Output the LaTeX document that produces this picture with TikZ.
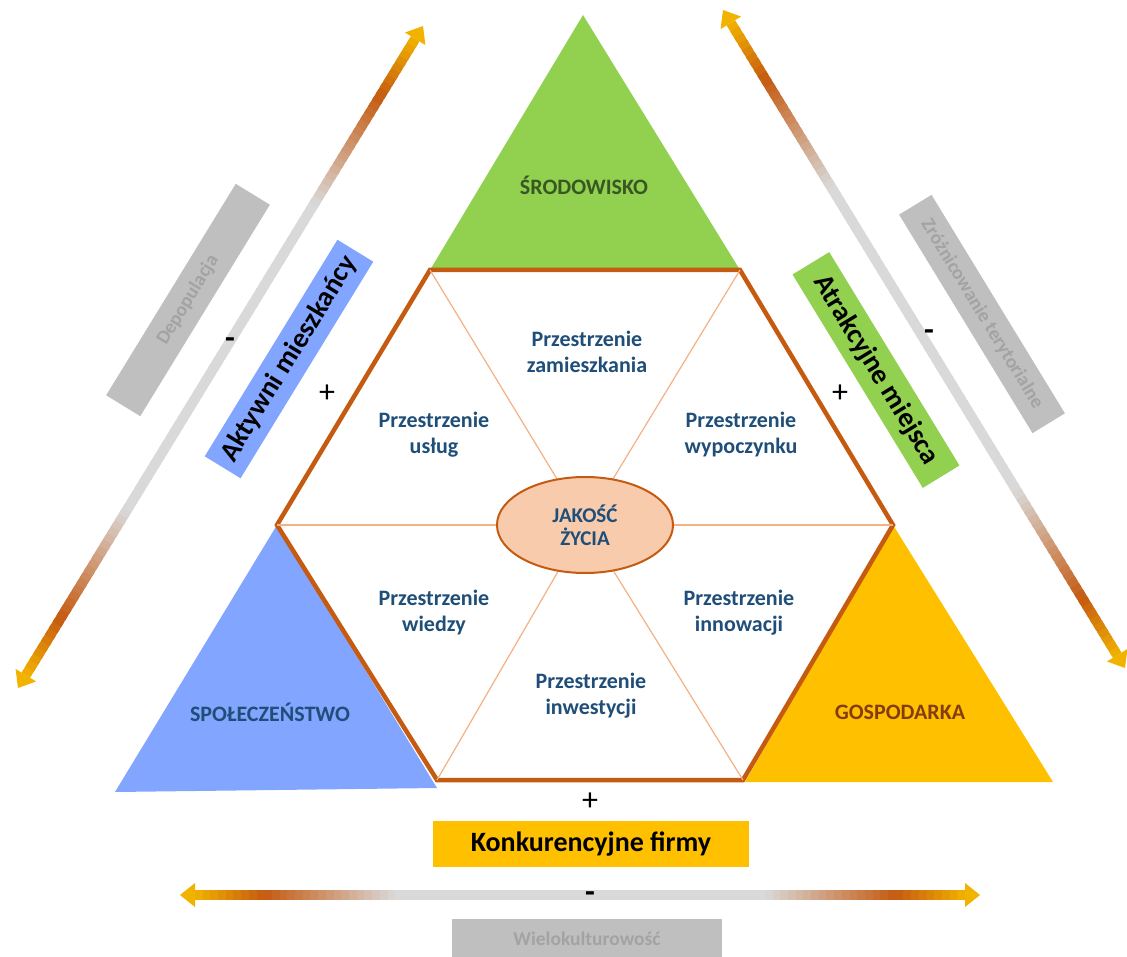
\documentclass[tikz,border=0pt]{standalone}
\usepackage{fontspec}
\setmainfont{Carlito}
\usetikzlibrary{calc,shapes.geometric}
\definecolor{hexbrown}{HTML}{C55A11}
\definecolor{thinline}{HTML}{F4B183}
\definecolor{ellfill}{HTML}{F8CBAD}
\definecolor{envgreen}{HTML}{92D050}
\definecolor{socblue}{HTML}{82A5FF}
\definecolor{ecoyellow}{HTML}{FFC000}
\definecolor{boxgray}{HTML}{BFBFBF}
\definecolor{txtgray}{HTML}{A3A3A3}
\definecolor{secblue}{HTML}{1F4E79}
\definecolor{envtxt}{HTML}{385723}
\definecolor{soctxt}{HTML}{1F4E79}
\definecolor{ecotxt}{HTML}{843C0C}
\definecolor{gld}{HTML}{F2B200}
\definecolor{dor}{HTML}{C55A11}
\definecolor{lgr}{HTML}{D9D9D9}
\newcommand\setgradcolor[1]{%
  \pgfmathsetmacro\gt{#1}%
  \ifdim\gt pt<0.09pt
    \pgfmathsetmacro\gp{\gt/0.09*100}\colorlet{segc}{dor!\gp!gld}%
  \else\ifdim\gt pt<0.26pt
    \pgfmathsetmacro\gp{(\gt-0.09)/0.17*100}\colorlet{segc}{lgr!\gp!dor}%
  \else\ifdim\gt pt<0.74pt
    \colorlet{segc}{lgr}%
  \else\ifdim\gt pt<0.91pt
    \pgfmathsetmacro\gp{(\gt-0.74)/0.17*100}\colorlet{segc}{dor!\gp!lgr}%
  \else
    \pgfmathsetmacro\gp{(\gt-0.91)/0.09*100}\colorlet{segc}{gld!\gp!dor}%
  \fi\fi\fi\fi}
\newcommand\gradarrowdraw[2]{%
  \coordinate (#1s) at ($(#1)!15pt!(#2)$);
  \coordinate (#2s) at ($(#2)!15pt!(#1)$);
  \foreach \gi in {0,...,99}{%
    \pgfmathsetmacro\ga{\gi/100}%
    \pgfmathsetmacro\gb{min((\gi+1.6)/100,1)}%
    \pgfmathsetmacro\gm{(\gi+0.5)/100}%
    \setgradcolor{\gm}%
    \draw[line width=10pt, draw=segc] ($(#1s)!\ga!(#2s)$) -- ($(#1s)!\gb!(#2s)$);
  }
  \fill[gld] (#1) -- ($(#1s)!12pt!90:(#2s)$) -- ($(#1s)!12pt!-90:(#2s)$) -- cycle;
  \fill[gld] (#2) -- ($(#2s)!12pt!90:(#1s)$) -- ($(#2s)!12pt!-90:(#1s)$) -- cycle;
}
\begin{document}
\begin{tikzpicture}[x=1pt,y=-1pt,
  seclabel/.style={text=secblue, font=\bfseries\fontsize{22}{26}\selectfont, align=center, inner sep=0pt},
  catlabel/.style={font=\bfseries\fontsize{22}{26}\selectfont, inner sep=0pt},
  bigbox/.style={font=\bfseries\fontsize{28}{32}\selectfont, text=black, inner sep=0pt},
  graybox/.style={fill=boxgray, text=txtgray, font=\bfseries\fontsize{19.5}{22}\selectfont, inner sep=0pt},
  signlbl/.style={font=\fontsize{32}{32}\selectfont, inner sep=0pt, text=black},
  dashlbl/.style={font=\bfseries\fontsize{32}{32}\selectfont, inner sep=0pt, text=black},
  spoke/.style={draw=thinline, line width=1.2pt},
]
\useasboundingbox (0,0) rectangle (1127,957);
% hexagon and triangle corners
\coordinate (hTL) at (430,270);
\coordinate (hTR) at (740,270);
\coordinate (hR)  at (893,525);
\coordinate (hBR) at (743,780);
\coordinate (hBL) at (437,780);
\coordinate (hL)  at (277,525);
\coordinate (ctr) at (585,525);
\coordinate (envapex) at (583,15);
\coordinate (socBL) at (115,792);
\coordinate (socBR) at (437,788);
\coordinate (ecoBL) at (745,782);
\coordinate (ecoBR) at (1053,782);
% triangles
\fill[envgreen] (envapex) -- (hTL) -- (hTR) -- cycle;
\fill[socblue] (hL) -- (socBL) -- (socBR) -- cycle;
\fill[ecoyellow] (hR) -- (ecoBL) -- (ecoBR) -- cycle;
% hexagon
\filldraw[fill=white, draw=hexbrown, line width=4.5pt] (hTL) -- (hTR) -- (hR) -- (hBR) -- (hBL) -- (hL) -- cycle;
\foreach \v in {hTL,hTR,hR,hBR,hBL,hL} \draw[spoke] (ctr) -- (\v);
\node[ellipse, fill=ellfill, draw=hexbrown, line width=2pt, minimum width=176pt, minimum height=96pt, inner sep=0pt,
      text=secblue, font=\bfseries\fontsize{21}{23}\selectfont, align=center] (jakosc) at (ctr) {JAKOŚĆ\\ŻYCIA};
% sector labels
\node[seclabel] (zamieszk) at (587,352) {Przestrzenie\\zamieszkania};
\node[seclabel] (uslug) at (434,435) {Przestrzenie\\usług};
\node[seclabel] (wypocz) at (741,435) {Przestrzenie\\wypoczynku};
\node[seclabel] (wiedzy) at (434,613) {Przestrzenie\\wiedzy};
\node[seclabel] (innow) at (739,613) {Przestrzenie\\innowacji};
\node[seclabel] (inwest) at (591,696) {Przestrzenie\\inwestycji};
% category labels
\node[catlabel, text=envtxt] (srod) at (584,185) {ŚRODOWISKO};
\node[catlabel, text=soctxt] (spol) at (270,712) {SPOŁECZEŃSTWO};
\node[catlabel, text=ecotxt] (gosp) at (900,712) {GOSPODARKA};
% gradient arrows
\coordinate (la1) at (18,688);
\coordinate (la2) at (423,26);
\coordinate (ra1) at (723,10);
\coordinate (ra2) at (1125,668);
\coordinate (ba1) at (180,895);
\coordinate (ba2) at (980,895);
\gradarrowdraw{la1}{la2}
\gradarrowdraw{ra1}{ra2}
\gradarrowdraw{ba1}{ba2}
% left side labels
\node[graybox, rotate=58.5, minimum width=248pt, minimum height=40pt] (depop) at (188,300) {Depopulacja};
\node[bigbox, fill=socblue, rotate=58.5, minimum width=254pt, minimum height=42pt] (aktywni) at (289,359) {Aktywni mieszkańcy};
\node[dashlbl] (lminus) at (230,343) {-};
\node[signlbl] (lplus) at (327,394) {+};
% right side labels
\node[graybox, rotate=-58.6, minimum width=256pt, minimum height=38pt] (zroz) at (982,314) {Zróżnicowanie terytorialne};
\node[bigbox, fill=envgreen, rotate=-58.6, minimum width=250pt, minimum height=43pt] (atrak) at (876,370) {Atrakcyjne miejsca};
\node[dashlbl] (rminus) at (929,335) {-};
\node[signlbl] (rplus) at (840,394) {+};
% bottom labels
\node[signlbl] (bplus) at (590,802) {+};
\node[bigbox, fill=ecoyellow, minimum width=316pt, minimum height=46pt] (konk) at (591,844) {Konkurencyjne firmy};
\node[dashlbl] (bminus) at (590,897) {-};
\node[graybox, minimum width=270pt, minimum height=40pt] (wielo) at (587,939) {Wielokulturowość};
\end{tikzpicture}
\end{document}
